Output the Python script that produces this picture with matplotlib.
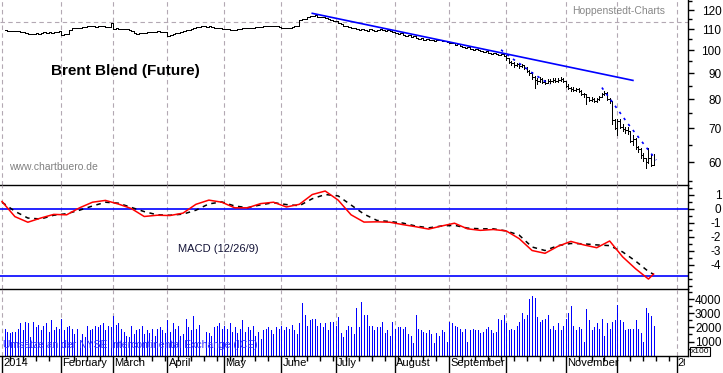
import numpy as np
import matplotlib
matplotlib.use('Agg')
import matplotlib.pyplot as plt
from matplotlib import transforms
from matplotlib.ticker import NullFormatter

plt.rcParams['font.family'] = ['Liberation Sans', 'DejaVu Sans']
plt.rcParams['axes.unicode_minus'] = False

# x axis = weekday number, counted from Wed 1 Jan 2014 (= 0)
month_starts = [0, 23, 43, 64, 86, 108, 129, 152, 173, 195, 218, 238, 261]
month_names = ['2014', 'February', 'March', 'April', 'May', 'June', 'July',
               'August', 'September', '', 'November', '', '2015']

# daily closes, 2 Jan .. 19 Dec 2014
closes = [
    109.6, 108.9, 108.9, 109.1, 108.9, 108.9, 108.6, 108.4, 107.9, 107.6, 107.4,
    107.6, 107.9, 107.6, 108.1, 108.4, 108.1, 108.4, 108.1, 108.6, 108.4, 109.1,  # Jan
    107.2, 107.4, 107.6, 109.6, 110.6, 110.4, 110.8, 110.6, 111.1, 111.3,
    111.6, 111.6, 111.8, 111.3, 111.6, 111.8, 111.6, 111.3, 111.1, 113.1,  # Feb
    110.1, 110.4, 110.1, 109.9, 110.1, 110.1, 109.6, 109.1, 108.1, 107.6, 107.9,
    108.1, 108.1, 108.4, 108.6, 108.4, 108.6, 108.9, 108.6, 108.6, 108.4,  # Mar
    106.4, 107.2, 107.6, 107.9, 108.1, 108.6, 109.1, 109.6, 109.6, 109.9, 110.6,
    111.1, 111.3, 111.6, 111.6, 111.3, 111.6, 111.3, 110.6, 110.4, 110.8, 110.1,  # Apr
    110.1, 109.9, 109.6, 109.4, 109.4, 109.9, 110.1, 110.4, 110.4, 110.6, 110.8,
    110.8, 111.1, 111.1, 111.3, 111.6, 111.8, 111.8, 111.8, 111.8, 111.6, 111.1,  # May
    110.6, 110.4, 110.4, 110.8, 111.3, 111.6, 111.8, 114.7, 115.2, 115.4, 116.2,
    116.8, 117.0, 117.3, 116.5, 116.2, 116.0, 115.7, 115.2, 114.7, 114.4,  # Jun
    113.9, 113.1, 112.6, 111.8, 111.6, 111.1, 110.6, 110.8, 110.1, 109.6, 110.1, 109.4,
    109.1, 109.9, 109.6, 109.1, 109.6, 110.1, 109.6, 109.1, 109.6, 108.9, 108.6,  # Jul
    108.1, 107.6, 107.9, 107.2, 106.7, 106.9, 106.2, 106.4, 105.7, 105.2, 105.5,
    104.8, 105.0, 104.5, 104.8, 104.3, 104.5, 104.8, 104.3, 104.0, 103.8,  # Aug
    103.4, 103.1, 102.4, 102.7, 102.0, 101.5, 101.0, 101.3, 100.6, 100.1, 100.6,
    99.9, 99.7, 99.2, 99.4, 98.8, 98.3, 98.5, 98.3, 97.6, 98.1, 97.4,  # Sep
    96.5, 94.8, 94.1, 93.5, 93.9, 93.1, 93.3, 92.3, 91.0, 90.2, 88.6, 87.4,
    87.0, 87.8, 86.6, 86.2, 87.0, 86.8, 87.4, 87.0, 87.4, 87.8, 87.0,  # Oct
    85.0, 84.3, 83.9, 83.5, 83.9, 83.1, 82.0, 81.7, 80.6, 79.7,
    80.2, 79.3, 80.0, 80.9, 81.7, 82.4, 80.2, 79.3, 72.6, 70.2,  # Nov
    72.5, 70.5, 69.9, 69.6, 69.1, 66.2, 66.8, 64.2, 63.7, 61.9,
    61.1, 60.0, 61.2, 59.3, 61.4,  # Dec
]

# daily high / low from 1 Oct on (visible bar ranges)
range_start = 195
highs = [
    97.6, 96.6, 95.2, 94.6, 94.4, 94.2, 93.9, 93.4, 92.4, 91.2, 90.3, 88.9,
    88.1, 88.4, 87.9, 87.4, 87.6, 87.6, 87.9, 87.9, 88.0, 88.3, 88.0,
    86.8, 85.6, 84.7, 84.4, 84.3, 84.2, 83.3, 82.4, 81.9, 80.8,
    80.6, 80.4, 80.3, 81.2, 82.1, 83.0, 82.6, 80.5, 78.4, 72.9,
    73.2, 72.9, 71.5, 70.6, 70.4, 69.3, 67.8, 66.9, 64.5, 63.9,
    62.5, 61.1, 64.0, 62.0, 62.4,
]
lows = [
    95.6, 94.2, 93.4, 92.7, 92.8, 92.3, 92.4, 91.6, 90.5, 89.2, 87.8, 84.3,
    85.8, 86.6, 86.0, 85.6, 85.9, 86.2, 86.5, 86.6, 86.6, 86.9, 86.4,
    84.6, 83.8, 83.1, 82.9, 83.0, 82.5, 81.5, 80.9, 78.1, 79.2,
    79.3, 78.9, 79.0, 79.7, 80.6, 81.4, 79.8, 78.6, 71.3, 69.9,
    67.8, 70.0, 69.2, 68.6, 68.2, 65.7, 65.0, 63.8, 63.0, 61.3,
    60.4, 58.5, 59.8, 58.9, 59.2,
]

trend_days = [120, 244]
trend_vals = [118.2, 87.1]

stop1_days = [193, 197, 202, 205, 209, 212]
stop1_vals = [100.1, 96.5, 92.6, 90.2, 87.4, 85.4]
stop2_days = [232, 242, 253]
stop2_vals = [84.3, 71.6, 60.6]

# MACD (12/26/9), read every week
macd_days = list(range(0, 251, 5)) + [252]
macd = [0.5, -0.58, -0.98, -0.68, -0.42, -0.45, 0.05, 0.45, 0.58, 0.32, 0.0,
        -0.57, -0.48, -0.5, -0.33, 0.3, 0.6, 0.45, 0.05, 0.05, 0.35, 0.45,
        0.11, 0.3, 1.0, 1.25, 0.6, -0.45, -0.97, -0.95, -0.98, -1.15, -1.3,
        -1.47, -1.25, -1.05, -1.45, -1.56, -1.5, -1.6, -2.15, -3.0, -3.2,
        -2.7, -2.35, -2.6, -2.8, -2.32, -3.45, -4.3, -5.04, -4.68]
signal = [0.45, -0.2, -0.68, -0.75, -0.48, -0.37, -0.12, 0.18, 0.45, 0.38, 0.08,
          -0.22, -0.45, -0.48, -0.4, -0.12, 0.33, 0.47, 0.18, 0.06, 0.26, 0.42,
          0.28, 0.2, 0.7, 1.0, 0.9, 0.25, -0.4, -0.85, -0.93, -1.04, -1.25,
          -1.38, -1.25, -1.2, -1.4, -1.45, -1.45, -1.6, -1.9, -2.75, -3.0,
          -2.65, -2.5, -2.52, -2.6, -2.65, -3.1, -3.75, -4.5, -4.7]
macd_levels = [0, -4.8]

# volume in units of 100 contracts
volume = [
    1900, 1700, 1600, 1700, 1650, 1900, 2300, 1800, 2400, 2300, 1300,
    2400, 2000, 2200, 1800, 2100, 2300, 1700, 2500, 1800, 2000, 1900,  # Jan
    2600, 1800, 2000, 2100, 1900, 1500, 1900, 1000, 1500, 1300,
    2100, 1800, 1900, 2100, 2000, 2200, 2300, 1800, 2100, 2000,  # Feb
    2800, 2200, 2300, 1900, 1700, 1400, 1300, 2100, 1500, 1800, 1900,
    2100, 1500, 1800, 1600, 1900, 1400, 1900, 2000, 1800, 1600,  # Mar
    2500, 1700, 2300, 1900, 2100, 1400, 1500, 2600, 2000, 1800, 2800,
    1900, 2200, 0, 0, 1700, 1600, 1400, 2000, 2100, 2300, 1900,  # Apr
    2100, 1900, 2300, 1700, 2000, 1600, 1900, 2500, 1700, 2000, 1800,
    2100, 1400, 1700, 1200, 1800, 1900, 2000, 1800, 1500, 2000, 1900,  # May
    2100, 1800, 2000, 1900, 2200, 1800, 1500, 2300, 3700, 2900, 2100,
    2500, 2600, 2600, 2100, 2300, 2000, 2300, 1800, 2400, 2400,  # Jun
    2100, 2700, 1600, 1300, 1800, 2100, 2000, 1500, 3400, 2000, 3800, 2900,
    2850, 2100, 2100, 1800, 2000, 2000, 2400, 1600, 1800, 1400, 2400,  # Jul
    1900, 2000, 2000, 1900, 2000, 1500, 1400, 900, 2900, 1900, 1800,
    1700, 1600, 1800, 1500, 900, 1600, 1400, 1800, 1700, 1000,  # Aug
    2400, 2300, 2100, 2000, 1900, 1700, 1900, 1000, 1800, 1900, 1800,
    1800, 1600, 1700, 1900, 2000, 1800, 1600, 1700, 2600, 2500, 2900,  # Sep
    2300, 1800, 1900, 1800, 2100, 2400, 3000, 2600, 2900, 4000, 4200, 4100,
    2700, 2400, 2500, 2600, 2900, 1900, 2100, 1800, 2300, 1800, 2100,  # Oct
    2600, 3000, 3500, 2100, 1800, 2000, 1900, 1000, 3300, 2500,
    1800, 2000, 2300, 1900, 2600, 1400, 2300, 1900, 2400, 2500,  # Nov
    3600, 2500, 2400, 1800, 1900, 1900, 1900, 2500, 1900, 1600,
    1000, 3400, 3000, 2800, 2100,  # Dec
]

days = np.arange(1, 1 + len(closes))
range_days = np.arange(range_start, range_start + len(highs))
mondays = [d for d in range(3, 262, 5) if d not in month_starts]

W, H = 723, 373
AXIS_X = 688
GRID = dict(color='#b3a8b3', lw=0.8, dashes=(4, 3), zorder=0)

fig = plt.figure(figsize=(W / 100, H / 100), dpi=100)


def panel(top, bottom):
    ax = fig.add_axes([0, 1 - bottom / H, AXIS_X / W, (bottom - top) / H])
    ax.patch.set_visible(False)
    ax.set_xlim(-0.77, 265.3)
    ax.spines['left'].set_visible(False)
    ax.spines['top'].set_visible(False)
    ax.spines['bottom'].set_linewidth(1)
    ax.spines['right'].set_linewidth(1)
    ax.yaxis.tick_right()
    ax.tick_params(axis='y', which='major', direction='out', length=4, width=1,
                   labelsize=8.5, pad=20)
    ax.tick_params(axis='y', which='minor', direction='out', length=3, width=1)
    ax.tick_params(axis='x', which='both', bottom=False, labelbottom=False)
    for m in month_starts:
        ax.axvline(m, **GRID)
    return ax


def right_align(ax):
    for t in ax.yaxis.get_major_ticks():
        t.label2.set_horizontalalignment('right')


# price panel
ax_p = panel(0, 185)
ax_p.set_yscale('log')
ax_p.set_ylim(54.1, 125.6)
ax_p.set_yticks([60, 70, 80, 90, 100, 110, 120], labels=['60', '70', '80', '90', '100', '110', '120'])
ax_p.set_yticks([55, 65, 75, 85, 95, 105, 115, 125], minor=True)
ax_p.yaxis.set_minor_formatter(NullFormatter())
right_align(ax_p)
ax_p.axhline(113.5, **GRID)
ax_p.step(days, closes, where='post', color='black', lw=0.6, antialiased=False)
ax_p.vlines(range_days, lows, highs, color='black', lw=0.6, antialiased=False)
ax_p.plot(trend_days, trend_vals, color='#0000ff', lw=1.2)
ax_p.plot(stop1_days, stop1_vals, color='#0000ff', lw=1.2, dashes=(1.5, 3))
ax_p.plot(stop2_days, stop2_vals, color='#0000ff', lw=1.2, dashes=(1.5, 3))

# MACD panel
ax_m = panel(185, 289)
ax_m.set_ylim(-5.75, 1.68)
ax_m.set_yticks([1, 0, -1, -2, -3, -4], labels=['1', '0', '-1', '-2', '-3', '-4'])
ax_m.set_yticks([1.5, 0.5, -0.5, -1.5, -2.5, -3.5, -4.5, -5, -5.5], minor=True)
right_align(ax_m)
for lvl in macd_levels:
    ax_m.axhline(lvl, color='#0000ff', lw=1.2)
ax_m.plot(macd_days, signal, color='black', lw=1.1, dashes=(3, 3))
ax_m.plot(macd_days, macd, color='#ff0000', lw=1.1)

# volume panel
ax_v = panel(289, 356)
ax_v.set_ylim(-20, 4706)
ax_v.set_yticks([1000, 2000, 3000, 4000], labels=['1000', '2000', '3000', '4000'])
ax_v.set_yticks([500, 1500, 2500, 3500, 4500], minor=True)
right_align(ax_v)
ax_v.vlines(days, 0, volume, color='#0000ff', lw=0.6, antialiased=False)
ax_v.set_xticks(month_starts)
ax_v.set_xticks(mondays, minor=True)
ax_v.tick_params(axis='x', which='major', bottom=True, direction='out', length=12.5, width=1)
ax_v.tick_params(axis='x', which='minor', bottom=True, direction='out', length=3.6, width=1)

lab_trans = transforms.blended_transform_factory(ax_v.transData, fig.transFigure)
clip = transforms.TransformedBbox(transforms.Bbox([[0, 0], [685 / W, 1]]), fig.transFigure)
for m, name in zip(month_starts, month_names):
    t = ax_v.text(m + 0.4, 1 - 358 / H, name, transform=lab_trans, fontsize=8,
                  ha='left', va='top', clip_on=True)
    t.set_clip_box(clip)

# captions
fig.text(51 / W, 1 - 71 / H, 'Brent Blend (Future)', fontsize=11, fontweight='bold', va='center')
fig.text(9 / W, 1 - 167 / H, 'www.chartbuero.de', fontsize=7.5, color='#808080', va='center')
fig.text(572 / W, 1 - 11 / H, 'Hoppenstedt-Charts', fontsize=7.5, color='#888888', va='center')
fig.text(178 / W, 1 - 249 / H, 'MACD (12/26/9)', fontsize=8, color='#141438', va='center')
fig.text(3 / W, 1 - 345 / H, 'Umsätze an der NYSE Intercontinental Exchange (ICE)',
         fontsize=7.5, color='#3030ff', va='center', zorder=5)
fig.text(700 / W, 1 - 351.5 / H, 'x100', fontsize=6, ha='center', va='center',
         bbox=dict(boxstyle='square,pad=0.12', fc='white', ec='black', lw=0.8))

fig.savefig('out.png', dpi=100)
